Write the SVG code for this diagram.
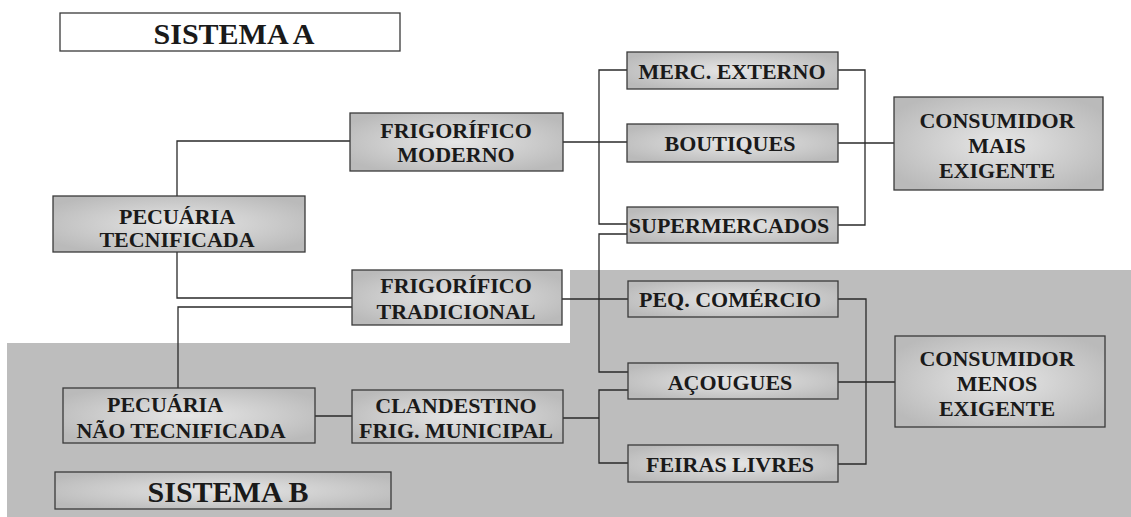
<svg xmlns="http://www.w3.org/2000/svg" width="1131" height="517" viewBox="0 0 1131 517">
<style>
.bg{fill:#bdbdbd;stroke:none}
.box{fill:url(#boxg);stroke:#3a3a3a;stroke-width:1.3}
.title{fill:#ffffff;stroke:#3a3a3a;stroke-width:1.3}
.titleB{fill:url(#boxg);stroke:#3a3a3a;stroke-width:1.3}
text{font-family:"Liberation Serif","Times New Roman",serif;font-weight:bold;fill:#1a1a1a;text-anchor:middle;dominant-baseline:central}
.t{font-size:22px}
.big{font-size:30px}
#connectors path{fill:none;stroke:#2a2a2a;stroke-width:1.3}
</style>
<defs>
<radialGradient id="boxg" cx="0.5" cy="0.5" r="0.6">
<stop offset="0" stop-color="#e6e6e6"/>
<stop offset="1" stop-color="#bababa"/>
</radialGradient>
</defs>
<rect x="0" y="0" width="1131" height="517" fill="#ffffff"/>
<path class="bg" d="M570,270 H1131 V517 H7 V343 H570 Z"/>

<g id="connectors">
<path d="M177,196 V141 H350"/>
<path d="M177,252 V298 H352"/>
<path d="M178,388 V307 H352"/>
<path d="M315,416 H352"/>
<path d="M563,142 H627"/>
<path d="M627,70 H599 V224 H627"/>
<path d="M627,234 H599 V372 H628"/>
<path d="M562,299 H628"/>
<path d="M628,390 H599 V463 H628"/>
<path d="M563,418 H599"/>
<path d="M838,70 H865 V225 H838"/>
<path d="M838,143 H894"/>
<path d="M838,299 H866 V464 H838"/>
<path d="M838,382 H895"/>
</g>

<g id="sistemaA">
<rect class="title" x="60" y="13" width="340" height="38"/>
<text class="big" x="234" y="33">SISTEMA A</text>
</g>

<g id="frigorificoModerno">
<rect class="box" x="350" y="113" width="213" height="58"/>
<text class="t" x="456" y="130">FRIGORÍFICO</text>
<text class="t" x="456" y="154">MODERNO</text>
</g>

<g id="mercExterno">
<rect class="box" x="627" y="52" width="211" height="37"/>
<text class="t" x="732" y="71">MERC. EXTERNO</text>
</g>

<g id="boutiques">
<rect class="box" x="627" y="124" width="211" height="38"/>
<text class="t" x="730" y="143">BOUTIQUES</text>
</g>

<g id="supermercados">
<rect class="box" x="627" y="207" width="211" height="36"/>
<text class="t" x="729" y="225">SUPERMERCADOS</text>
</g>

<g id="consumidorMais">
<rect class="box" x="894" y="97" width="209" height="93"/>
<text class="t" x="997" y="120">CONSUMIDOR</text>
<text class="t" x="997" y="145">MAIS</text>
<text class="t" x="997" y="170">EXIGENTE</text>
</g>

<g id="pecuariaTecnificada">
<rect class="box" x="53" y="196" width="252" height="56"/>
<text class="t" x="177" y="216">PECUÁRIA</text>
<text class="t" x="177" y="239">TECNIFICADA</text>
</g>

<g id="frigorificoTradicional">
<rect class="box" x="352" y="270" width="210" height="55"/>
<text class="t" x="456" y="285">FRIGORÍFICO</text>
<text class="t" x="456" y="311">TRADICIONAL</text>
</g>

<g id="peqComercio">
<rect class="box" x="628" y="281" width="210" height="36"/>
<text class="t" x="730" y="299">PEQ. COMÉRCIO</text>
</g>

<g id="acougues">
<rect class="box" x="628" y="363" width="210" height="36"/>
<text class="t" x="730" y="382">AÇOUGUES</text>
</g>

<g id="feirasLivres">
<rect class="box" x="628" y="445" width="210" height="37"/>
<text class="t" x="730" y="464">FEIRAS LIVRES</text>
</g>

<g id="consumidorMenos">
<rect class="box" x="895" y="336" width="210" height="91"/>
<text class="t" x="997" y="358">CONSUMIDOR</text>
<text class="t" x="997" y="383">MENOS</text>
<text class="t" x="997" y="408">EXIGENTE</text>
</g>

<g id="pecuariaNaoTecnificada">
<rect class="box" x="63" y="388" width="252" height="55"/>
<text class="t" x="165" y="404">PECUÁRIA</text>
<text class="t" x="181" y="430">NÃO TECNIFICADA</text>
</g>

<g id="clandestino">
<rect class="box" x="352" y="390" width="211" height="53"/>
<text class="t" x="456" y="405">CLANDESTINO</text>
<text class="t" x="456" y="430">FRIG. MUNICIPAL</text>
</g>

<g id="sistemaB">
<rect class="titleB" x="55" y="472" width="336" height="37"/>
<text class="big" x="228" y="491">SISTEMA B</text>
</g>
</svg>
